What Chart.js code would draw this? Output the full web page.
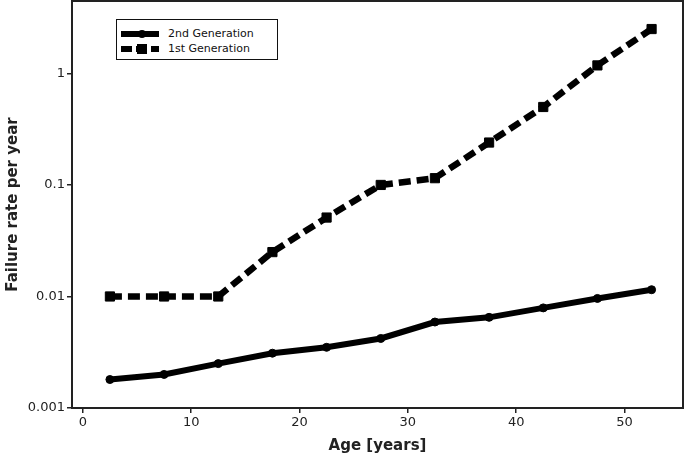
<!DOCTYPE html>
<html lang="en">
<head>
<meta charset="UTF-8">
<title>Failure rate per year</title>
<script src="https://cdn.jsdelivr.net/npm/chart.js"></script>
<style>
  body { margin: 0; background: #fff; }
  .wrap { position: relative; width: 685px; height: 459px; }
  .legend {
    position: absolute; left: 116px; top: 19px; width: 162px; height: 41px;
    border: 1.5px solid #111; background: #fff; box-sizing: border-box;
    font-family: 'DejaVu Sans', sans-serif; font-size: 11px; color: #111;
    padding: 6px 0 0 4px;
  }
  .legend .row { display: flex; align-items: center; height: 15px; }
  .legend svg { margin-right: 9px; }
</style>
</head>
<body>
<div class="wrap">
  <canvas id="grafico" width="685" height="459"></canvas>
  <div class="legend">
    <div class="row">
      <svg width="38" height="10"><line x1="0" y1="5" x2="38" y2="5" stroke="#000" stroke-width="6"/><circle cx="21" cy="5" r="4" fill="#000"/></svg>
      <span>2nd Generation</span>
    </div>
    <div class="row">
      <svg width="38" height="10"><line x1="0" y1="5" x2="38" y2="5" stroke="#000" stroke-width="6" stroke-dasharray="11 4"/><rect x="16" y="0" width="10" height="10" fill="#000"/></svg>
      <span>1st Generation</span>
    </div>
  </div>
</div>
<script>
  // ages (middle of each 5-year band)
  const ages = [2.5, 7.5, 12.5, 17.5, 22.5, 27.5, 32.5, 37.5, 42.5, 47.5, 52.5];
  const gen2 = [0.0018, 0.0020, 0.0025, 0.0031, 0.0035, 0.0042, 0.0059, 0.0065, 0.0079, 0.0096, 0.0115];
  const gen1 = [0.01, 0.01, 0.01, 0.025, 0.051, 0.10, 0.115, 0.24, 0.50, 1.18, 2.5];
  const xTicks = [0, 10, 20, 30, 40, 50];
  const yTicks = [0.001, 0.01, 0.1, 1];

  const frame = {
    id: 'frame',
    afterDraw(chart) {
      const { ctx, chartArea: a } = chart;
      ctx.save();
      ctx.strokeStyle = '#222';
      ctx.lineWidth = 2;
      ctx.strokeRect(a.left, a.top, a.right - a.left, a.bottom - a.top);
      ctx.restore();
    }
  };

  const tickFont = { family: 'DejaVu Sans', size: 13 };
  const titleFont = { family: 'DejaVu Sans', size: 15, weight: 'bold' };

  new Chart(document.getElementById('grafico'), {
    type: 'line',
    data: {
      datasets: [
        {
          label: '2nd Generation',
          data: ages.map((a, i) => ({ x: a, y: gen2[i] })),
          borderColor: '#000', backgroundColor: '#000',
          borderWidth: 6, pointStyle: 'circle', pointRadius: 4, pointBorderWidth: 1, tension: 0
        },
        {
          label: '1st Generation',
          data: ages.map((a, i) => ({ x: a, y: gen1[i] })),
          borderColor: '#000', backgroundColor: '#000',
          borderWidth: 6.5, borderDash: [12, 6], pointStyle: 'rect', pointRadius: 6.5, pointBorderWidth: 1, tension: 0
        }
      ]
    },
    options: {
      responsive: false,
      animation: false,
      layout: { autoPadding: false, padding: { top: 1, right: 2, left: 0, bottom: 0 } },
      plugins: { legend: { display: false }, tooltip: { enabled: false } },
      scales: {
        x: {
          type: 'linear', min: -1, max: 55.4,
          afterBuildTicks: s => { s.ticks = xTicks.map(v => ({ value: v })); },
          afterFit: s => { s.height = 51; s.paddingRight = 0; s.paddingLeft = 0; },
          grid: { drawOnChartArea: false, tickLength: 5, color: '#222', lineWidth: 1.5 },
          border: { color: '#222', width: 2 },
          ticks: { color: '#222', font: tickFont, padding: 2 },
          title: { display: true, text: 'Age [years]', color: '#222', font: titleFont, padding: { top: 1 } }
        },
        y: {
          type: 'logarithmic', min: 0.001, max: 4.46,
          afterBuildTicks: s => { s.ticks = yTicks.map(v => ({ value: v })); },
          afterFit: s => { s.width = 72; s.paddingTop = 0; s.paddingBottom = 0; },
          grid: { drawOnChartArea: false, tickLength: 5, color: '#222', lineWidth: 1.5 },
          border: { color: '#222', width: 2 },
          ticks: { color: '#222', font: tickFont, padding: 2, callback: v => String(v) },
          title: { display: true, text: 'Failure rate per year', color: '#222', font: titleFont, padding: { bottom: 4 } }
        }
      }
    },
    plugins: [frame]
  });
</script>
</body>
</html>
